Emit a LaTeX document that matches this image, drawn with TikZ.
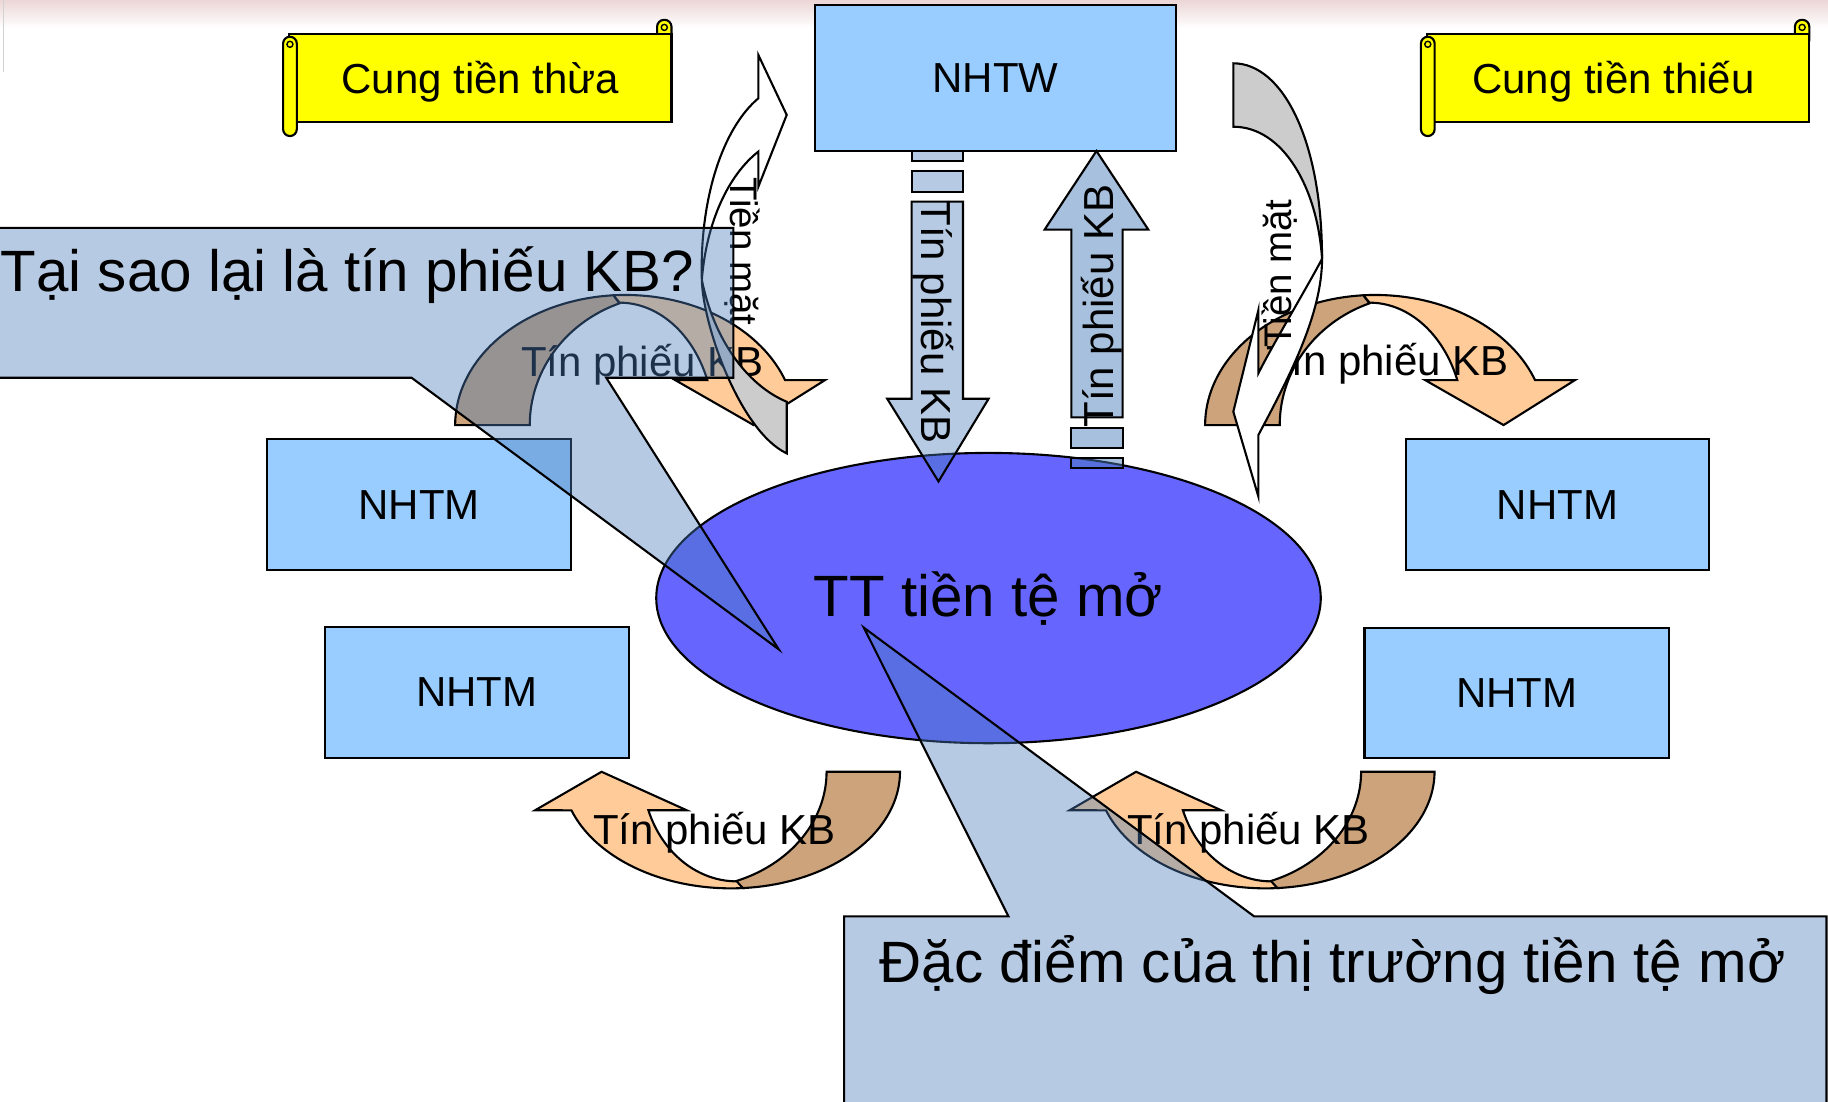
\documentclass[tikz,border=0pt]{standalone}
\usepackage{fontspec}
\setmainfont{Liberation Sans}
\usetikzlibrary{shapes.geometric}
\definecolor{boxblue}{RGB}{153,204,255}
\definecolor{ellblue}{RGB}{102,102,255}
\definecolor{lightor}{RGB}{255,204,153}
\definecolor{darktan}{RGB}{204,163,122}
\definecolor{cashgray}{RGB}{204,204,204}
\definecolor{callblue}{RGB}{73,124,186}
\definecolor{scrollyel}{RGB}{255,255,0}
\definecolor{toppink}{RGB}{236,214,214}
\begin{document}
\begin{tikzpicture}[x=1pt,y=-1pt,
  ol/.style={draw=black, line width=1.8pt},
  bankbox/.style={ol, fill=boxblue, rectangle, inner sep=0pt, font=\fontsize{36}{43}\selectfont},
  kbarrow/.style={ol, fill=callblue, fill opacity=0.4},
  kbarrowb/.style={ol, fill=callblue, fill opacity=0.48},
  kbtext/.style={inner sep=0pt, font=\fontsize{36}{43}\selectfont},
  cashtext/.style={inner sep=0pt, font=\fontsize{33}{40}\selectfont},
  bigtext/.style={inner sep=0pt, font=\fontsize{50}{60}\selectfont},
  scrollfill/.style={ol, fill=scrollyel},
  calloutbox/.style={ol, fill=callblue, fill opacity=0.4},
  curvdown/.pic={
    \filldraw[ol, fill=darktan] plot[domain=180:266, samples=40] ({146*cos(\x)}, {111.6*sin(\x)})
      -- plot[domain=249.3:180, samples=40] ({37+119*cos(\x)}, {111.6*sin(\x)}) -- cycle;
    \filldraw[ol, fill=lightor] plot[domain=266:339.76, samples=40] ({146*cos(\x)}, {111.6*sin(\x)})
      -- (171.3,-38.6) -- (110,0) -- (42.7,-38.6)
      -- plot[domain=338.43:270, samples=40] ({-5+81*cos(\x)}, {105*sin(\x)}) -- cycle;
  },
  curvup/.pic={
    \filldraw[ol, fill=darktan] plot[domain=86:0, samples=40] ({145*cos(\x)}, {100*sin(\x)})
      -- plot[domain=0:70, samples=40] ({-37+119*cos(\x)}, {100*sin(\x)}) -- cycle;
    \filldraw[ol, fill=lightor] plot[domain=86:160.7, samples=40] ({145*cos(\x)}, {100*sin(\x)})
      -- (-168,33) -- (-111,0) -- (-38,33)
      -- plot[domain=159.45:90, samples=40] ({5+81*cos(\x)}, {94*sin(\x)}) -- cycle;
  }
]
\useasboundingbox (0,0) rectangle (1568,945);
\clip (0,0) rectangle (1568,945);
\fill[white] (0,0) rectangle (1568,945);
\shade[top color=toppink, bottom color=white] (0,0) rectangle (1568,24);
\draw[gray!35, line width=1pt] (3,0) -- (3,62);

% scrolls
\filldraw[scrollfill, rounded corners=6pt] (563.6,40) -- (563.6,17) -- (576,17) -- (576,40) -- cycle;
\filldraw[scrollfill] (248,29.4) -- (576,29.4) -- (576,104.4) -- (248,104.4) -- cycle;
\filldraw[scrollfill, rounded corners=5.9pt] (242.8,31.5) rectangle (254.6,116.7);
\filldraw[scrollfill, line width=1.2pt] (248.7,38) circle[radius=2.6pt];
\filldraw[scrollfill, line width=1.2pt] (569.8,23.5) circle[radius=2.6pt];
\node[kbtext, anchor=base] (scr1) at (412,80) {Cung tiền thừa};

\begin{scope}[xshift=976pt]
\filldraw[scrollfill, rounded corners=6pt] (563.6,40) -- (563.6,17) -- (576,17) -- (576,40) -- cycle;
\filldraw[scrollfill] (248,29.4) -- (576,29.4) -- (576,104.4) -- (248,104.4) -- cycle;
\filldraw[scrollfill, rounded corners=5.9pt] (242.8,31.5) rectangle (254.6,116.7);
\filldraw[scrollfill, line width=1.2pt] (248.7,38) circle[radius=2.6pt];
\filldraw[scrollfill, line width=1.2pt] (569.8,23.5) circle[radius=2.6pt];
\end{scope}
\node[kbtext, anchor=base] (scr2) at (1384,80) {Cung tiền thiếu};

% boxes
\node[bankbox, minimum width=310pt, minimum height=125pt] (nhtw) at (854,66.8) {NHTW};
\node[bankbox, minimum width=261pt, minimum height=112pt] (nhtm1) at (359.5,432.9) {NHTM};
\node[bankbox, minimum width=260.4pt, minimum height=112pt] (nhtm2) at (409,594) {NHTM};
\node[bankbox, minimum width=260pt, minimum height=112pt] (nhtm3) at (1336,432.9) {NHTM};
\node[bankbox, minimum width=261pt, minimum height=112pt] (nhtm4) at (1300.9,594.4) {NHTM};

% central ellipse
\node[ellipse, ol, fill=ellblue, minimum width=570pt, minimum height=249pt, inner sep=0pt,
  font=\fontsize{50}{60}\selectfont] (tt) at (847.9,513) {TT tiền tệ mở};

% straight arrows
\filldraw[kbarrow] (782,129.5) rectangle (826,138);
\filldraw[kbarrow] (782,147) rectangle (826,165);
\filldraw[kbarrow] (782,173) -- (826,173) -- (826,342) -- (848,342) -- (805,413) -- (761,342) -- (782,342) -- cycle;
\node[kbtext, rotate=-90, anchor=base] (tdown) at (790.6,276) {Tín phiếu KB};

\filldraw[kbarrowb] (919,358) -- (919,197) -- (896,197) -- (940.5,129.5) -- (985,197) -- (963,197) -- (963,358) -- cycle;
\filldraw[kbarrowb] (919,367.4) rectangle (963,384.6);
\filldraw[kbarrowb] (919,393.2) rectangle (963,401.7);
\node[kbtext, rotate=90, anchor=base] (tup) at (955,262.5) {Tín phiếu KB};

% curved arrows
\pic at (536.4,364.6) {curvdown};
\node[kbtext, anchor=base] (c1) at (551,323) {Tín phiếu KB};
\pic at (1179.7,364.6) {curvdown};
\node[kbtext, anchor=base] (c2) at (1190,321.7) {Tín phiếu KB};
\pic at (627,662) {curvup};
\node[kbtext, anchor=base] (c3) at (613,724.8) {Tín phiếu KB};
\pic at (1085.5,662) {curvup};
\node[kbtext, anchor=base] (c4) at (1071,724.8) {Tín phiếu KB};

% cash arrows (left)
\filldraw[ol, fill=cashgray] (602,240) .. controls (603,280) and (635,370) .. (674.8,388.9)
  -- (674.8,344.6) .. controls (640,330) and (612,290) .. (602,240) -- cycle;
\filldraw[ol, fill=white] (650.5,84.3) -- (650.5,47.2) -- (674.8,98.6) -- (650.5,160.1) -- (650.5,130)
  .. controls (625,150) and (606,190) .. (602,240)
  .. controls (600,170) and (620,110) .. (650.5,84.3) -- cycle;
\node[cashtext, rotate=-90, anchor=base] (cash1) at (626.2,215.7) {Tiền mặt};

% cash arrows (right)
\filldraw[ol, fill=cashgray] (1057.9,54.3) .. controls (1100,54.3) and (1134,120) .. (1134,222)
  .. controls (1130,160) and (1100,108.7) .. (1057.9,108.7) -- cycle;
\filldraw[ol, fill=white] (1079.4,320.2) -- (1079.4,265.9) -- (1057.9,353.1) -- (1079.4,426) -- (1079.4,373.1)
  .. controls (1105,325) and (1134,270) .. (1134,222)
  .. controls (1122,245) and (1092,295) .. (1079.4,320.2) -- cycle;
\node[cashtext, rotate=90, anchor=base] (cash2) at (1108,234.5) {Tiền mặt};

% callouts
\filldraw[calloutbox] (-5,195.5) -- (629,195.5) -- (629,324) -- (520,324) -- (668,557) -- (353,324) -- (-5,324) -- cycle;
\node[bigtext, anchor=base west] (q1) at (0.5,250) {Tại sao lại là tín phiếu KB?};
\filldraw[calloutbox] (724,786) -- (865,786) -- (741,538.4) -- (1075.7,786) -- (1566.7,786) -- (1566.7,960) -- (724,960) -- cycle;
\node[bigtext, anchor=base] (q2) at (1143,843) {Đặc điểm của thị trường tiền tệ mở};
\end{tikzpicture}
\end{document}
